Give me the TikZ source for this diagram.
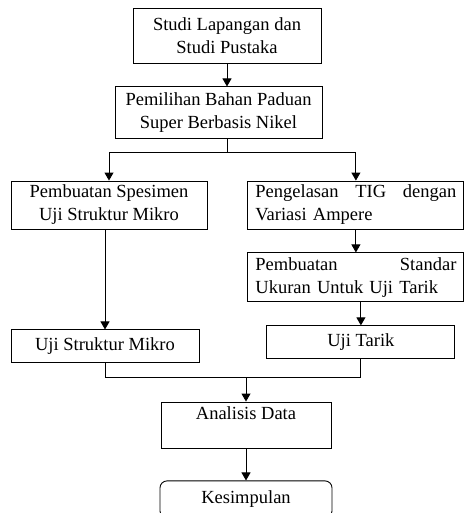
\documentclass[tikz,border=0pt]{standalone}
\usepackage{fontspec}
\setmainfont{Liberation Serif}
\usepackage{tikz}
\usetikzlibrary{positioning,arrows.meta,calc}

\begin{document}
\begin{tikzpicture}[
    x=1pt, y=1pt,
    block/.style={draw, line width=0.9pt, minimum height=48pt, align=center, inner sep=0pt, font=\fontsize{18.5}{23}\selectfont},
    jblock/.style={block, text width=201pt, minimum width=216pt, align=left},
    arrow/.style={-{Triangle[length=8pt, width=9pt]}, line width=0.9pt},
    line/.style={line width=0.9pt}
]
    \useasboundingbox (0,0) rectangle (465,-513);

    % Top
    \node[block, minimum width=188pt, minimum height=55pt] (studi) at (227,-35.5) {Studi Lapangan dan\\Studi Pustaka};
    \node[block, minimum width=207pt, minimum height=52pt, below=23pt of studi, xshift=-8.5pt] (pilih) {Pemilihan Bahan Paduan\\Super Berbasis Nikel};

    % Left branch
    \node[block, minimum width=196pt] (spes) at (109,-205) {Pembuatan Spesimen\\Uji Struktur Mikro};
    \node[block, minimum width=188pt, minimum height=33pt, below=100pt of spes, xshift=-4pt] (mikro) {Uji Struktur Mikro};

    % Right branch
    \node[jblock, right=40pt of spes] (las) {Pengelasan\hfill TIG\hfill dengan\\Variasi Ampere};
    \node[jblock, minimum height=49pt, below=23pt of las] (standar) {Pembuatan\hfill Standar\\Ukuran Untuk Uji Tarik};
    \node[block, minimum width=188pt, minimum height=33pt, below=23pt of standar, xshift=5pt] (tarik) {Uji Tarik};

    % Bottom
    \node[block, minimum width=170pt, minimum height=46pt] (analisis) at (246,-425) {Analisis Data\\\mbox{}};
    \node[block, rounded corners=7pt, minimum width=172pt, minimum height=37pt, below=32pt of analisis] (simpul) {Kesimpulan};

    \draw[arrow] (studi.south) -- (studi.south |- pilih.north);
    \draw[line] (studi.south |- pilih.south) -- ++(0,-13) coordinate (split);
    \draw[arrow] (split) -| (spes.north);
    \draw[arrow] (split) -| (las.north);
    \draw[arrow] (mikro.north |- spes.south) -- (mikro);
    \draw[arrow] (las) -- (standar);
    \draw[arrow] (tarik.north |- standar.south) -- (tarik);
    \draw[line] (mikro.south) -- ++(0,-14) coordinate (join) -| (tarik.south);
    \draw[arrow] (join -| analisis.north) -- (analisis);
    \draw[arrow] (analisis) -- (simpul);
\end{tikzpicture}
\end{document}
